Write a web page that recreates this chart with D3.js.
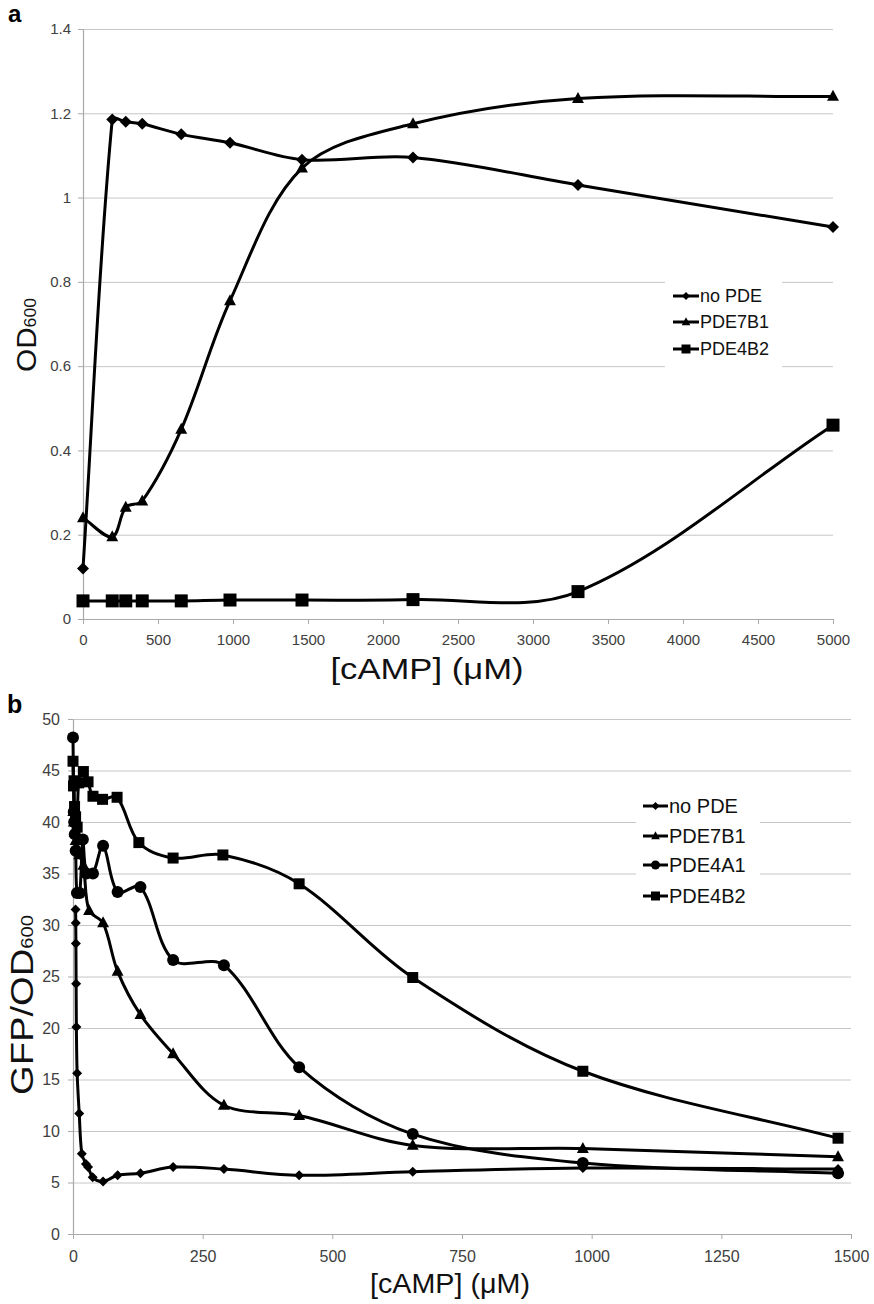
<!DOCTYPE html>
<html>
<head>
<meta charset="utf-8">
<script src="https://cdn.jsdelivr.net/npm/d3@7"></script>
<style>
  html, body { margin: 0; padding: 0; background: #fff; }
  svg { display: block; }
  text { font-family: "Liberation Sans", Arial, Helvetica, sans-serif; }
</style>
</head>
<body>
<svg id="chart" width="874" height="1304"></svg>
<script>
// ---------------- Panel a data ----------------
const aX = [0, 195, 285, 395, 655, 980, 1460, 2200, 3300, 5000];
const aNoPDE = [0.12, 1.185, 1.18, 1.175, 1.15, 1.13, 1.09, 1.095, 1.03, 0.93];
const aPDE7B1 = [0.24, 0.195, 0.265, 0.28, 0.45, 0.755, 1.07, 1.175, 1.235, 1.24];
const aPDE4B2 = [0.043, 0.043, 0.043, 0.043, 0.043, 0.045, 0.045, 0.046, 0.065, 0.46];
const aXTicks = [0, 500, 1000, 1500, 2000, 2500, 3000, 3500, 4000, 4500, 5000];
const aYTicks = [0, 0.2, 0.4, 0.6, 0.8, 1.0, 1.2, 1.4];
const aYTickLabels = ["0", "0.2", "0.4", "0.6", "0.8", "1", "1.2", "1.4"];
const aLegend = ["no PDE", "PDE7B1", "PDE4B2"];

// ---------------- Panel b data ----------------
const bNoPDEx = [5, 5.3, 5.6, 6, 6.5, 8, 12, 17, 25, 29, 38, 58, 86, 130, 193, 291, 436, 655, 983, 1475];
const bNoPDEy = [31.5, 30.2, 28.2, 24.3, 20.1, 15.6, 11.7, 7.8, 6.8, 6.5, 5.5, 5.1, 5.7, 5.9, 6.5, 6.3, 5.7, 6.05, 6.4, 6.3];
const bPDE7B1x = [0.5, 1.5, 3, 5, 8, 12, 20, 31, 58, 86, 130, 193, 291, 436, 655, 983, 1475];
const bPDE7B1y = [41.0, 40.0, 39.0, 38.2, 37.5, 36.8, 35.8, 31.4, 30.2, 25.5, 21.3, 17.5, 12.5, 11.5, 8.6, 8.3, 7.5];
const bPDE4A1x = [0, 1.5, 2.3, 3.4, 5.1, 7.6, 13, 19, 25.7, 38.5, 58, 86, 130, 193, 291, 436, 655, 983, 1475];
const bPDE4A1y = [48.2, 41.0, 40.0, 38.8, 37.2, 33.1, 33.1, 38.3, 35.0, 35.0, 37.7, 33.2, 33.7, 26.6, 26.1, 16.2, 9.7, 6.9, 5.9];
const bPDE4B2x = [0, 1, 2, 3, 5, 8, 11, 20, 29, 38.5, 57, 85, 127, 193, 289, 436, 655, 983, 1475];
const bPDE4B2y = [45.9, 43.5, 44.0, 41.5, 40.5, 39.5, 43.8, 44.9, 43.9, 42.5, 42.2, 42.4, 38.0, 36.5, 36.8, 34.0, 24.9, 15.8, 9.3];
const bXTicks = [0, 250, 500, 750, 1000, 1250, 1500];
const bYTicks = [0, 5, 10, 15, 20, 25, 30, 35, 40, 45, 50];
const bLegend = ["no PDE", "PDE7B1", "PDE4A1", "PDE4B2"];

// ---------------- helpers ----------------
const svg = d3.select("#chart");
svg.append("rect").attr("width", 874).attr("height", 1304).attr("fill", "#fff");

const GRID = "#c6c6c6", AXIS = "#a9a9a9", TICKTXT = "#404040";

// Smoothed line curve for d3.line (length-weighted Catmull-Rom, similar to spreadsheet smoothing)
function SmoothCurve(context) { this._context = context; }
SmoothCurve.prototype = {
  areaStart() {}, areaEnd() {},
  lineStart() { this._p = []; },
  point(x, y) { this._p.push([+x, +y]); },
  lineEnd() {
    const p = this._p, c = this._context, n = p.length;
    if (!n) return;
    c.moveTo(p[0][0], p[0][1]);
    if (n === 1) return;
    const L = [];
    for (let i = 0; i < n - 1; i++) L.push(Math.hypot(p[i + 1][0] - p[i][0], p[i + 1][1] - p[i][1]) || 1e-6);
    const t = p.map((q, i) => {
      const a = p[Math.max(0, i - 1)], b = p[Math.min(n - 1, i + 1)];
      return [b[0] - a[0], b[1] - a[1]];
    });
    for (let i = 0; i < n - 1; i++) {
      const lPrev = i > 0 ? L[i - 1] : 0, lNext = i + 1 < n - 1 ? L[i + 1] : 0;
      const f1 = L[i] / (lPrev + L[i]) / 3, f2 = L[i] / (L[i] + lNext) / 3;
      c.bezierCurveTo(
        p[i][0] + t[i][0] * f1, p[i][1] + t[i][1] * f1,
        p[i + 1][0] - t[i + 1][0] * f2, p[i + 1][1] - t[i + 1][1] * f2,
        p[i + 1][0], p[i + 1][1]);
    }
  }
};
const smoothCurve = ctx => new SmoothCurve(ctx);

function shape(type, s) {
  if (type === "diamond") { const r = s / 2; return `M0,${-r}L${r},0L0,${r}L${-r},0Z`; }
  if (type === "triangle") { const w = s * 1.08, h = s; return `M0,${-h * 0.6}L${w / 2},${h * 0.4}L${-w / 2},${h * 0.4}Z`; }
  if (type === "square") { return `M${-s / 2},${-s / 2}h${s}v${s}h${-s}Z`; }
  const r = s / 2; return `M${r},0A${r},${r} 0 1,1 ${-r},0A${r},${r} 0 1,1 ${r},0Z`;
}

function drawAxes(g, x, y, xTicks, yTicks, yLabels, fontSize, xPad, yPad) {
  const [x0, x1] = x.range();
  g.append("g")
    .attr("transform", `translate(${x0},0)`)
    .call(d3.axisLeft(y).tickValues(yTicks.filter(v => v !== 0)).tickSize(-(x1 - x0)).tickFormat(""))
    .call(s => s.select(".domain").remove())
    .call(s => s.selectAll("line").attr("stroke", GRID).attr("stroke-width", 1));
  g.append("g")
    .attr("transform", `translate(0,${y(0)})`)
    .call(d3.axisBottom(x).tickValues(xTicks).tickSize(5).tickSizeOuter(0).tickPadding(xPad).tickFormat(d => String(d)))
    .call(s => s.select(".domain").attr("stroke", AXIS).attr("stroke-width", 1.2))
    .call(s => s.selectAll("line").attr("stroke", AXIS))
    .call(s => s.selectAll("text").attr("fill", TICKTXT).attr("font-size", fontSize)
      .attr("font-family", '"Liberation Sans", Arial, Helvetica, sans-serif'));
  g.append("g")
    .attr("transform", `translate(${x0},0)`)
    .call(d3.axisLeft(y).tickValues(yTicks).tickSize(5).tickSizeOuter(0).tickPadding(yPad)
      .tickFormat((d, i) => yLabels[i]))
    .call(s => s.select(".domain").attr("stroke", AXIS).attr("stroke-width", 1.2))
    .call(s => s.selectAll("line").attr("stroke", AXIS))
    .call(s => s.selectAll("text").attr("fill", TICKTXT).attr("font-size", fontSize)
      .attr("font-family", '"Liberation Sans", Arial, Helvetica, sans-serif'));
}

function drawSeries(g, x, y, xs, ys, type, size) {
  const pts = xs.map((v, i) => [v, ys[i]]);
  const line = d3.line().x(d => x(d[0])).y(d => y(d[1])).curve(smoothCurve);
  g.append("path").attr("d", line(pts)).attr("fill", "none").attr("stroke", "#000")
    .attr("stroke-width", 3).attr("stroke-linejoin", "round");
  g.append("g").selectAll("path").data(pts).join("path")
    .attr("transform", d => `translate(${x(d[0])},${y(d[1])})`)
    .attr("d", shape(type, size)).attr("fill", "#000");
}

function drawLegend(g, box, items, types, sizes, lx0, lx1, tx, ys, fontSize) {
  g.append("rect").attr("x", box[0]).attr("y", box[1]).attr("width", box[2]).attr("height", box[3]).attr("fill", "#fff");
  items.forEach((name, i) => {
    const yy = ys[i];
    g.append("line").attr("x1", lx0).attr("x2", lx1).attr("y1", yy).attr("y2", yy)
      .attr("stroke", "#000").attr("stroke-width", 3);
    g.append("path").attr("transform", `translate(${(lx0 + lx1) / 2},${yy})`)
      .attr("d", shape(types[i], sizes[i])).attr("fill", "#000");
    g.append("text").attr("x", tx).attr("y", yy).attr("dy", "0.36em")
      .attr("font-size", fontSize).attr("fill", "#111").text(name);
  });
}

// ---------------- Panel a ----------------
{
  const g = svg.append("g");
  const x = d3.scaleLinear().domain([0, 5000]).range([83, 833]);
  const y = d3.scaleLinear().domain([0, 1.4]).range([619, 29]);
  drawAxes(g, x, y, aXTicks, aYTicks, aYTickLabels, 15, 10, 7);

  drawLegend(g, [665, 272, 117, 100], aLegend, ["diamond", "triangle", "square"], [8, 8, 9],
    673, 699, 700, [296, 322, 349], 18);

  drawSeries(g, x, y, aX, aNoPDE, "diamond", 12);
  drawSeries(g, x, y, aX, aPDE7B1, "triangle", 11);
  drawSeries(g, x, y, aX, aPDE4B2, "square", 13);

  svg.append("text").attr("x", 8).attr("y", 22).attr("font-size", 24).attr("font-weight", "bold").text("a");
  svg.append("text").attr("x", 427).attr("y", 679).attr("text-anchor", "middle")
    .attr("font-size", 30).attr("fill", "#111")
    .attr("textLength", 193).attr("lengthAdjust", "spacingAndGlyphs").text("[cAMP] (μM)");
  const yt = svg.append("text").attr("transform", "translate(36,335) rotate(-90)")
    .attr("text-anchor", "middle").attr("fill", "#111")
    .attr("textLength", 74).attr("lengthAdjust", "spacingAndGlyphs");
  yt.append("tspan").attr("font-size", 27).text("OD");
  yt.append("tspan").attr("font-size", 16).text("600");
}

// ---------------- Panel b ----------------
{
  const g = svg.append("g");
  const x = d3.scaleLinear().domain([0, 1500]).range([73, 851]);
  const y = d3.scaleLinear().domain([0, 50]).range([1234, 719]);
  drawAxes(g, x, y, bXTicks, bYTicks, bYTicks.map(String), 16, 12, 8);

  drawLegend(g, [636, 786, 124, 126], bLegend, ["diamond", "triangle", "circle", "square"], [8, 8, 9, 9],
    643, 668, 669, [806, 836, 865, 896], 20);

  drawSeries(g, x, y, bNoPDEx, bNoPDEy, "diamond", 10);
  drawSeries(g, x, y, bPDE7B1x, bPDE7B1y, "triangle", 11);
  drawSeries(g, x, y, bPDE4A1x, bPDE4A1y, "circle", 12);
  drawSeries(g, x, y, bPDE4B2x, bPDE4B2y, "square", 11);

  svg.append("text").attr("x", 7).attr("y", 713).attr("font-size", 25).attr("font-weight", "bold").text("b");
  svg.append("text").attr("x", 450).attr("y", 1293).attr("text-anchor", "middle")
    .attr("font-size", 28).attr("fill", "#111")
    .attr("textLength", 160).attr("lengthAdjust", "spacingAndGlyphs").text("[cAMP] (μM)");
  const yt = svg.append("text").attr("transform", "translate(33,1005) rotate(-90)")
    .attr("text-anchor", "middle").attr("fill", "#111")
    .attr("textLength", 180).attr("lengthAdjust", "spacingAndGlyphs");
  yt.append("tspan").attr("font-size", 32).text("GFP/OD");
  yt.append("tspan").attr("font-size", 17).text("600");
}
</script>
</body>
</html>
